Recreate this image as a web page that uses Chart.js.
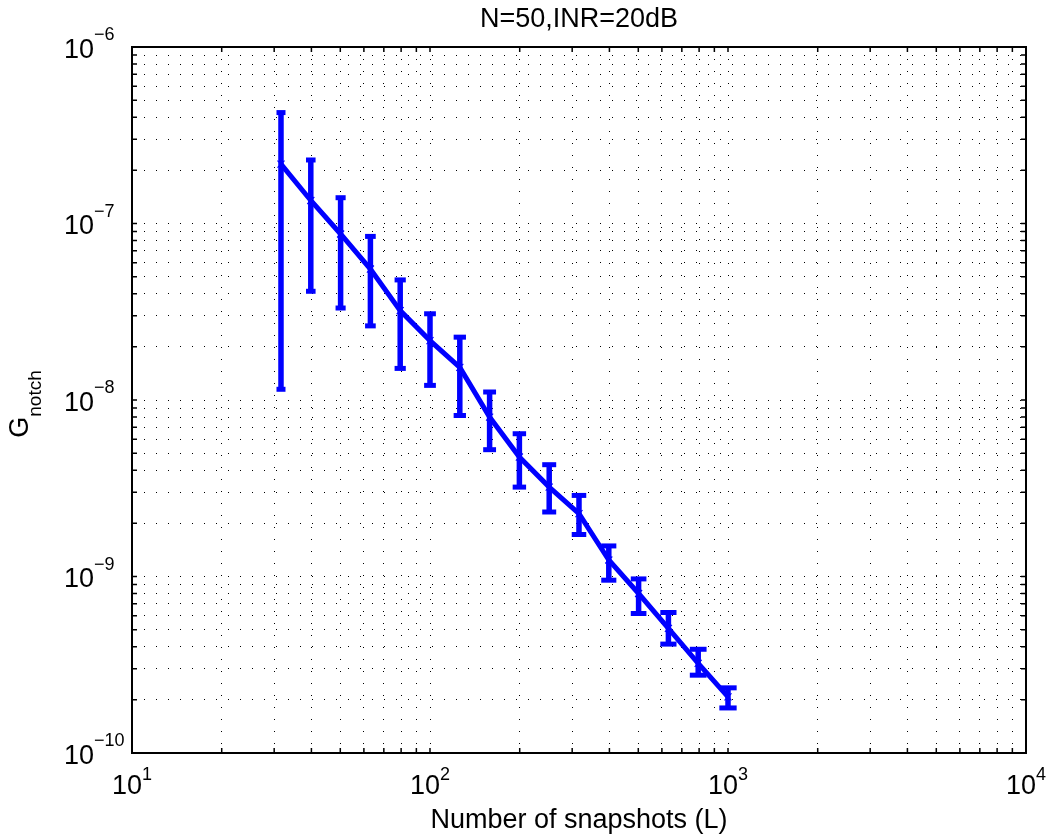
<!DOCTYPE html>
<html>
<head>
<meta charset="utf-8">
<style>
html,body{margin:0;padding:0;background:#fff;}
canvas{display:block;}
</style>
<script src="https://cdn.jsdelivr.net/npm/chart.js@4.4.1/dist/chart.umd.min.js"></script>
</head>
<body>
<canvas id="c" width="1051" height="838"></canvas>
<script>
// ---- data ----
const snapshots = [31.62, 39.81, 50.12, 63.10, 79.43, 100, 125.9, 158.5, 199.5, 251.2, 316.2, 398.1, 501.2, 631.0, 794.3, 1000];
const gMean  = [2.17e-7, 1.35e-7, 8.72e-8, 5.52e-8, 3.21e-8, 2.17e-8, 1.53e-8, 8.0e-9, 4.75e-9, 3.21e-9, 2.27e-9, 1.24e-9, 8.01e-10, 5.08e-10, 3.22e-10, 2.08e-10];
const gUpper = [4.25e-7, 2.29e-7, 1.40e-7, 8.45e-8, 4.79e-8, 3.08e-8, 2.27e-8, 1.11e-8, 6.44e-9, 4.30e-9, 2.88e-9, 1.49e-9, 9.69e-10, 6.25e-10, 3.87e-10, 2.34e-10];
const gLower = [1.15e-8, 4.13e-8, 3.32e-8, 2.63e-8, 1.51e-8, 1.21e-8, 8.17e-9, 5.23e-9, 3.21e-9, 2.32e-9, 1.73e-9, 9.53e-10, 6.17e-10, 4.14e-10, 2.76e-10, 1.80e-10];
const xTickExps = [1, 2, 3, 4];
const yTickExps = [-6, -7, -8, -9, -10];
const titleText = 'N=50,INR=20dB';
const xLabel = 'Number of snapshots (L)';
const yLabelMain = 'G';
const yLabelSub = 'notch';

// ---- helpers ----
function logTicks(e0, e1) {
  const out = [];
  for (let e = e0; e < e1; e++) {
    for (let m = 1; m <= 9; m++) out.push(Number((m * Math.pow(10, e)).toPrecision(12)));
  }
  out.push(Math.pow(10, e1));
  return out;
}
const FONT = '"Liberation Sans", Arial, Helvetica, sans-serif';
const BLUE = '#0000ff';

const mainData = snapshots.map((x, i) => ({x: x, y: gMean[i]}));
const barData = [];
snapshots.forEach((x, i) => {
  barData.push({x: x, y: gLower[i]}, {x: x, y: gUpper[i]}, {x: x, y: null});
});

const decor = {
  id: 'decor',
  afterDraw(chart) {
    const {ctx, chartArea: a, scales: {x, y}} = chart;
    ctx.save();
    // inward tick marks on all four sides
    ctx.strokeStyle = '#000';
    ctx.lineWidth = 1.5;
    ctx.beginPath();
    x.ticks.forEach(t => {
      const px = x.getPixelForValue(t.value);
      ctx.moveTo(px, a.bottom); ctx.lineTo(px, a.bottom - 5);
      ctx.moveTo(px, a.top); ctx.lineTo(px, a.top + 5);
    });
    y.ticks.forEach(t => {
      const py = y.getPixelForValue(t.value);
      ctx.moveTo(a.left, py); ctx.lineTo(a.left + 5, py);
      ctx.moveTo(a.right, py); ctx.lineTo(a.right - 5, py);
    });
    ctx.stroke();
    // box
    ctx.lineWidth = 2;
    ctx.strokeRect(a.left, a.top, a.right - a.left, a.bottom - a.top);

    ctx.fillStyle = '#000';
    ctx.textBaseline = 'alphabetic';
    const base = '27px ' + FONT;
    const sup = '18px ' + FONT;

    // x tick labels
    xTickExps.forEach(e => {
      const px = x.getPixelForValue(Math.pow(10, e));
      ctx.font = base; const w1 = ctx.measureText('10').width;
      ctx.font = sup; const es = String(e).replace('-', '\u2212'); const w2 = ctx.measureText(es).width;
      const start = px - (w1 + w2) / 2;
      ctx.textAlign = 'left';
      ctx.font = base; ctx.fillText('10', start, a.bottom + 41);
      ctx.font = sup; ctx.fillText(es, start + w1, a.bottom + 27);
    });
    // y tick labels
    yTickExps.forEach(e => {
      const py = y.getPixelForValue(Math.pow(10, e));
      const es = String(e).replace('-', '\u2212');
      ctx.font = base; ctx.textAlign = 'right';
      ctx.fillText('10', a.left - 38, py + 10.5);
      ctx.font = sup; ctx.textAlign = 'left';
      ctx.fillText(es, a.left - 38, py - 7);
    });
    // title
    ctx.font = base; ctx.textAlign = 'center';
    ctx.fillText(titleText, (a.left + a.right) / 2, a.top - 20.5);
    // x label
    ctx.fillText(xLabel, (a.left + a.right) / 2, a.bottom + 75);
    // y label (rotated) G_notch
    ctx.font = base; const wG = ctx.measureText(yLabelMain).width;
    ctx.font = '19px ' + FONT; const wS = ctx.measureText(yLabelSub).width;
    const cy = (a.top + a.bottom) / 2 + 4;
    ctx.translate(a.left - 104, cy + (wG + wS) / 2);
    ctx.rotate(-Math.PI / 2);
    ctx.textAlign = 'left';
    ctx.font = base; ctx.fillText(yLabelMain, 0, 0);
    ctx.font = '19px ' + FONT; ctx.fillText(yLabelSub, wG, 13);
    ctx.restore();
  }
};

new Chart(document.getElementById('c'), {
  type: 'scatter',
  data: {
    datasets: [
      {
        label: 'error',
        data: barData,
        showLine: true,
        spanGaps: false,
        borderColor: BLUE,
        borderWidth: 5.5,
        pointStyle: 'line',
        pointBorderColor: BLUE,
        pointBorderWidth: 5,
        pointRadius: (c) => {
          const r = c.raw;
          if (!r || r.y == null) return 0;
          return 4.5 + (Math.log10(r.x) - 1.5) * 2.77;
        },
        order: 2
      },
      {
        label: 'mean',
        data: mainData,
        showLine: true,
        borderColor: BLUE,
        borderWidth: 5,
        tension: 0,
        pointStyle: 'crossRot',
        pointRadius: 5,
        pointBorderColor: BLUE,
        pointBorderWidth: 1.2,
        order: 1
      }
    ]
  },
  options: {
    responsive: false,
    animation: false,
    events: [],
    devicePixelRatio: 1,
    layout: {padding: {left: 132, top: 47, right: 25, bottom: 85}},
    plugins: {legend: {display: false}, title: {display: false}, tooltip: {enabled: false}},
    scales: {
      x: {
        type: 'logarithmic', min: 10, max: 10000, position: 'bottom',
        afterBuildTicks: s => { s.ticks = logTicks(1, 4).map(v => ({value: v})); },
        ticks: {display: false},
        grid: {color: '#000', lineWidth: 1, drawTicks: false},
        border: {display: false, dash: [1, 11]}
      },
      y: {
        type: 'logarithmic', min: 1e-10, max: 1e-6, position: 'left',
        afterBuildTicks: s => { s.ticks = logTicks(-10, -6).map(v => ({value: v})); },
        ticks: {display: false},
        grid: {color: '#000', lineWidth: 1, drawTicks: false},
        border: {display: false, dash: [1, 11]}
      }
    }
  },
  plugins: [decor]
});
</script>
</body>
</html>
